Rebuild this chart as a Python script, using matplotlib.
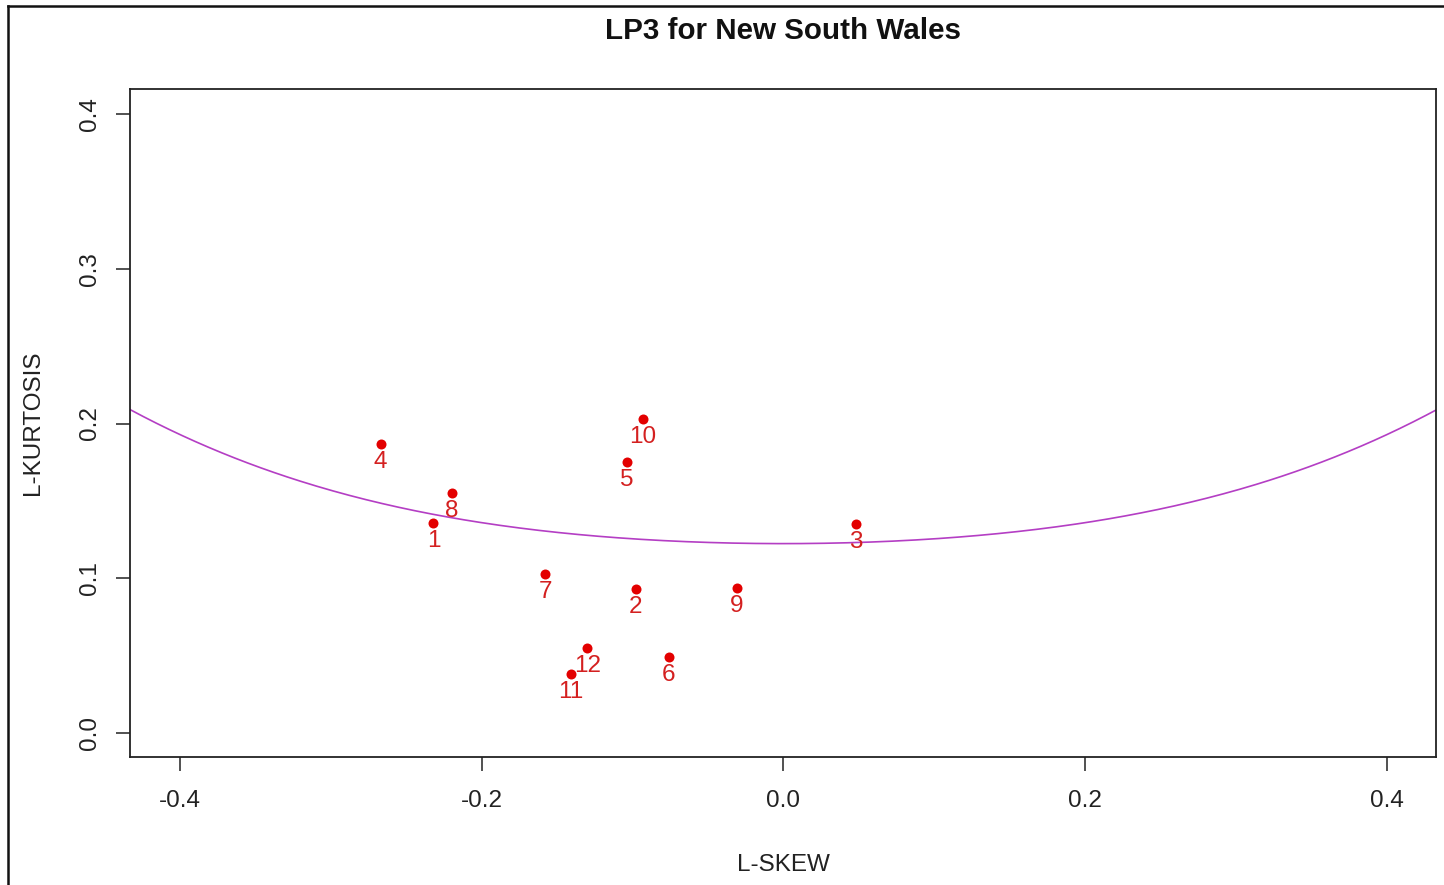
import matplotlib.pyplot as plt
import numpy as np
from matplotlib.lines import Line2D

plt.rcParams['font.family'] = ['Liberation Sans', 'DejaVu Sans']

# L-moment ratios per station
station = ['1', '2', '3', '4', '5', '6', '7', '8', '9', '10', '11', '12']
lskew = [-0.232, -0.098, 0.048, -0.267, -0.104, -0.076, -0.158, -0.220,
         -0.031, -0.093, -0.141, -0.130]
lkurt = [0.136, 0.093, 0.135, 0.187, 0.175, 0.049, 0.103, 0.155,
         0.094, 0.203, 0.038, 0.055]

# Pearson III (LP3) tau4 as polynomial in tau3 (even powers 0..8)
p3_coef = [0.1224, 0.30115, 0.95812, -0.57488, 0.19383]

xticks = [-0.4, -0.2, 0.0, 0.2, 0.4]
yticks = [0.0, 0.1, 0.2, 0.3, 0.4]

fig = plt.figure(figsize=(14.44, 8.85), dpi=100)
ax = fig.add_axes([130 / 1444, 1 - 757 / 885, 1306 / 1444, 668 / 885])

xlim = (-0.4331, 0.4325)
t3 = np.linspace(xlim[0], xlim[1], 400)
t4 = sum(c * t3 ** (2 * i) for i, c in enumerate(p3_coef))
ax.plot(t3, t4, color='#b43ec4', lw=1.2, zorder=2)

ax.plot(lskew, lkurt, 'o', color='#e30000', ms=7.2, mec='none', zorder=3)
for x, y, s in zip(lskew, lkurt, station):
    ax.annotate(s, (x, y), xytext=(0, -13), textcoords='offset points',
                ha='center', va='center', color='#d42020', fontsize=17.5,
                zorder=4)

ax.set_xlim(*xlim)
ax.set_ylim(-0.0155, 0.4162)
ax.set_xticks(xticks)
ax.set_xticklabels(['%.1f' % v for v in xticks])
ax.set_yticks(yticks)
ax.set_yticklabels(['%.1f' % v for v in yticks], rotation=90, va='center')
ax.tick_params(axis='both', labelsize=17.5, length=10, width=1.1,
               color='#222222', labelcolor='#222222', pad=14)
ax.tick_params(axis='y', pad=11)

for sp in ax.spines.values():
    sp.set_linewidth(1.3)
    sp.set_color('#222222')

ax.set_xlabel('L-SKEW', fontsize=17.5, color='#222222', labelpad=30)
ax.set_ylabel('L-KURTOSIS', fontsize=17.5, color='#222222', labelpad=25)
fig.text(783 / 1444, 1 - 31 / 885, 'LP3 for New South Wales', ha='center',
         va='center', fontsize=21.3, fontweight='bold', color='#111111')

# outer frame, top and left edges
fig.add_artist(Line2D([8 / 1444, 1], [1 - 6 / 885, 1 - 6 / 885],
                      transform=fig.transFigure, color='#111111', lw=1.8))
fig.add_artist(Line2D([8 / 1444, 8 / 1444], [0, 1 - 6 / 885],
                      transform=fig.transFigure, color='#111111', lw=1.8))

fig.savefig('out.png', dpi=100)
